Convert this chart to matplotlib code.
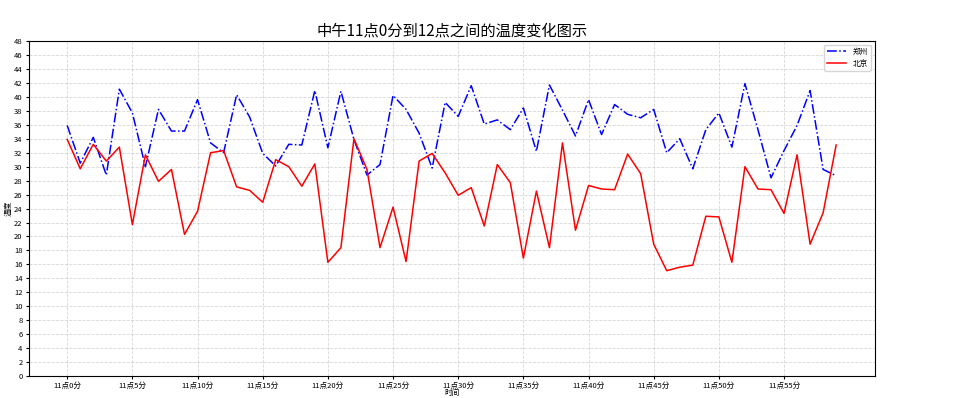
import matplotlib
matplotlib.use("Agg")
import matplotlib.pyplot as plt

plt.rcParams['font.family'] = ['Noto Sans CJK SC', 'DejaVu Sans']
plt.rcParams['axes.unicode_minus'] = False

# 11点0分 ~ 11点59分，每分钟一个温度
minutes = list(range(60))
zhengzhou = [35.9, 30.5, 34.2, 28.8, 41.1, 37.7, 30.0, 38.2, 35.1, 35.1,
             39.6, 33.4, 32.0, 40.3, 37.1, 31.9, 30.1, 33.2, 33.1, 40.9,
             32.7, 40.8, 33.9, 28.8, 30.3, 40.2, 38.2, 34.8, 29.8, 39.2,
             37.2, 41.6, 36.1, 36.7, 35.3, 38.4, 32.2, 41.7, 38.1, 34.4,
             39.6, 34.6, 38.9, 37.5, 37.0, 38.2, 32.0, 34.0, 29.7, 35.3,
             37.7, 32.8, 41.9, 35.3, 28.4, 32.3, 35.9, 40.9, 29.6, 28.7]
beijing = [33.9, 29.7, 33.2, 30.8, 32.8, 21.7, 31.7, 27.9, 29.6, 20.3,
           23.6, 32.0, 32.3, 27.1, 26.6, 24.9, 31.0, 30.0, 27.2, 30.4,
           16.3, 18.4, 34.0, 29.6, 18.4, 24.2, 16.4, 30.8, 31.9, 29.1,
           25.9, 27.0, 21.5, 30.3, 27.7, 16.9, 26.5, 18.4, 33.4, 20.9,
           27.3, 26.8, 26.7, 31.8, 29.0, 18.9, 15.1, 15.6, 15.9, 22.9,
           22.8, 16.3, 30.0, 26.8, 26.7, 23.3, 31.7, 18.9, 23.4, 33.1]
x_labels = ["11点{}分".format(i) for i in minutes]

fig = plt.figure(figsize=(9.59, 3.98), dpi=100)
ax = fig.add_axes([0.030, 0.055, 0.882, 0.842])

ax.plot(minutes, zhengzhou, color='b', linestyle='-.', linewidth=1.1, label='郑州')
ax.plot(minutes, beijing, color='r', linestyle='-', linewidth=1.1, label='北京')

ax.set_xticks(minutes[::5])
ax.set_xticklabels(x_labels[::5])
ax.set_yticks(range(0, 50, 2))
ax.set_ylim(0, 48)
ax.tick_params(labelsize=5.5, length=2.5, pad=2)

ax.grid(True, linestyle='--', alpha=0.5, linewidth=0.6)
ax.legend(loc='upper right', fontsize=5.5, handlelength=2.5)

ax.set_xlabel('时间', fontsize=5.5, labelpad=-1)
ax.set_ylabel('温度', fontsize=5.5, labelpad=1)
ax.set_title('中午11点0分到12点之间的温度变化图示', fontsize=11, pad=4)

fig.savefig('out.png', dpi=100)
